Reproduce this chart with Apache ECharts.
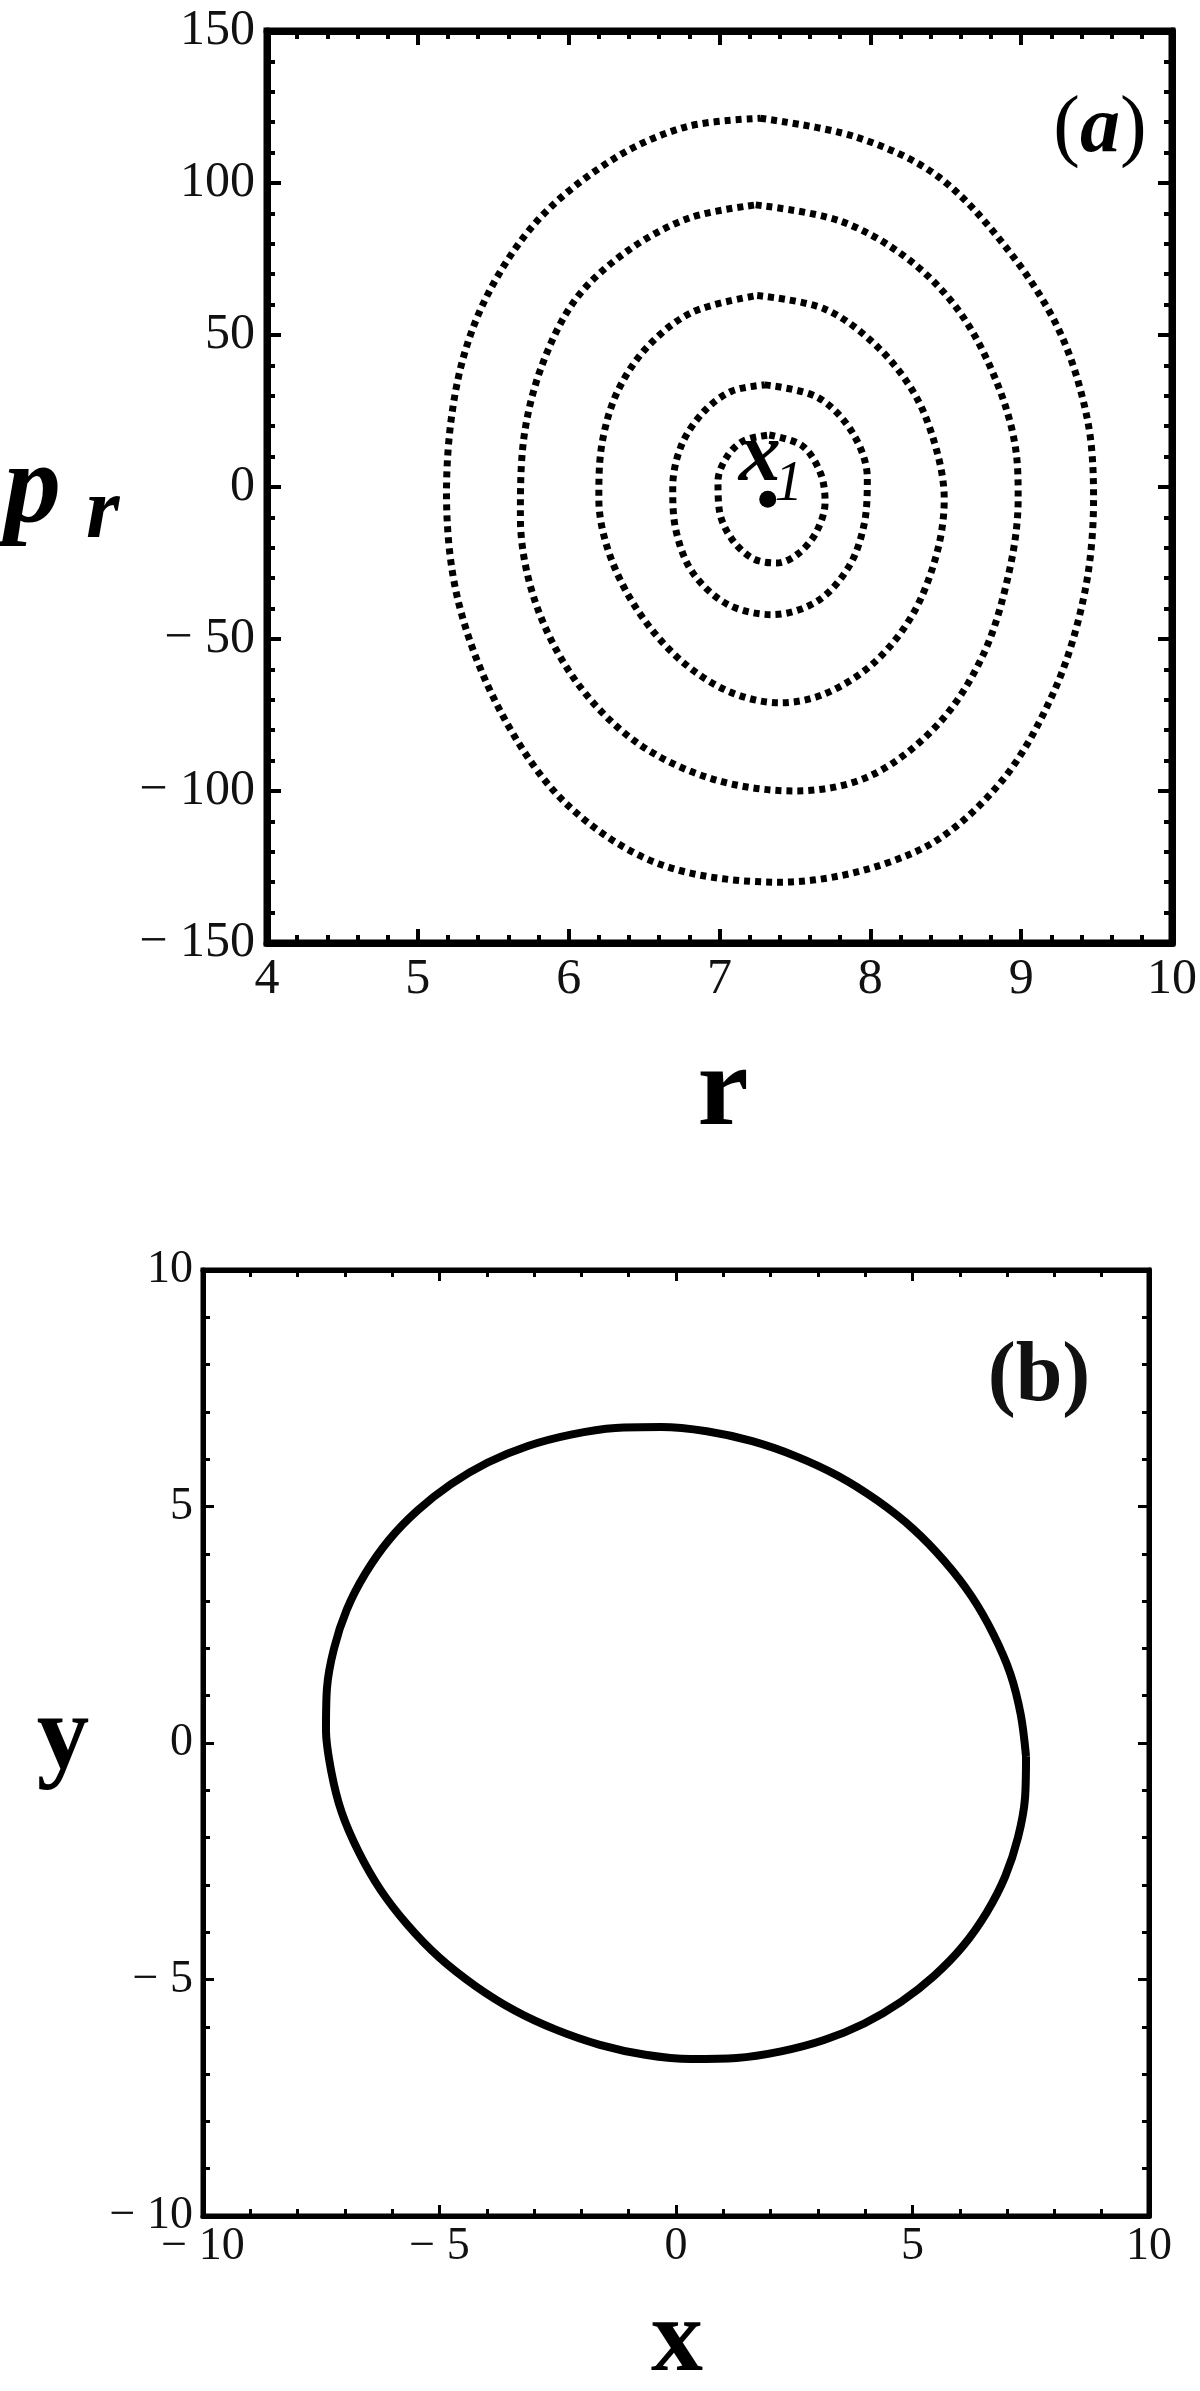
<!DOCTYPE html>
<html>
<head>
<meta charset="utf-8">
<script src="https://cdn.jsdelivr.net/npm/echarts@6/dist/echarts.min.js"></script>
<style>
  html, body { margin: 0; background: #fff; }
  #chart { width: 1200px; height: 2391px; }
</style>
</head>
<body>
<div id="chart"></div>
<script>
// panel (a): Poincare section, r against p_r
const rRange = [4, 10]
const prRange = [-150, 150]
const ring1 = [[7.27, 121.3], [7.90, 115.2], [8.45, 102.1], [8.93, 76.9], [9.26, 50.6], [9.44, 22], [9.48, -4], [9.42, -35], [9.22, -67], [8.85, -98], [8.30, -120], [7.40, -130], [6.60, -124], [5.98, -104], [5.55, -74], [5.27, -38], [5.19, -2], [5.26, 34], [5.45, 62], [5.80, 88], [6.30, 108], [6.78, 118.5], [7.27, 121.3]]
const ring2 = [[7.24, 92.8], [7.80, 87.5], [8.25, 75], [8.60, 57], [8.85, 33], [8.97, 10], [8.98, -4], [8.92, -28], [8.75, -55], [8.45, -78], [8.00, -95], [7.50, -100], [6.95, -96], [6.45, -84], [6.05, -64], [5.78, -38], [5.68, -10], [5.70, 15], [5.82, 39.6], [6.05, 62], [6.40, 78], [6.80, 88.5], [7.24, 92.8]]
const ring3 = [[7.25, 63], [7.70, 58.5], [8.05, 46], [8.30, 30], [8.44, 12], [8.49, -4], [8.44, -22], [8.28, -42], [8.02, -58], [7.70, -68], [7.40, -71], [7.05, -67], [6.72, -56], [6.45, -40], [6.27, -22], [6.20, -4], [6.22, 14], [6.32, 31], [6.52, 46], [6.82, 57.5], [7.25, 63]]
const ring4 = [[7.30, 33.6], [7.65, 29.5], [7.88, 18], [7.98, 3], [7.96, -12], [7.86, -26], [7.65, -37.5], [7.35, -42], [7.05, -38.5], [6.82, -28], [6.71, -14], [6.69, 0], [6.75, 14], [6.90, 25], [7.08, 31.5], [7.30, 33.6]]
const ring5 = [[7.33, 17.1], [7.55, 13.5], [7.67, 4.5], [7.70, -5], [7.64, -15], [7.52, -22], [7.38, -25], [7.22, -23.5], [7.08, -17], [7.00, -8], [6.99, 2], [7.05, 10], [7.16, 15.2], [7.33, 17.1]]
const fixedPoint = [[7.32, -4]]

// panel (b): orbit in the x-y plane
const xyRange = [-10, 10]
const orbit = [
  [7.40, -0.28], [7.29, 0.59], [7.07, 1.46], [6.71, 2.30], [6.25, 3.10], [5.68, 3.84], [5.01, 4.53], [4.25, 5.13],
  [3.42, 5.65], [2.54, 6.06], [1.61, 6.38], [0.65, 6.59], [-0.32, 6.68], [-1.28, 6.66], [-2.22, 6.52], [-3.13, 6.28],
  [-3.98, 5.93], [-4.76, 5.47], [-5.46, 4.92], [-6.07, 4.29], [-6.57, 3.58], [-6.96, 2.82], [-7.23, 2.00], [-7.38, 1.15],
  [-7.40, 0.28], [-7.29, -0.59], [-7.07, -1.46], [-6.71, -2.30], [-6.25, -3.10], [-5.68, -3.84], [-5.01, -4.53], [-4.25, -5.13],
  [-3.42, -5.65], [-2.54, -6.06], [-1.61, -6.38], [-0.65, -6.59], [0.32, -6.68], [1.28, -6.66], [2.22, -6.52], [3.13, -6.28],
  [3.98, -5.93], [4.76, -5.47], [5.46, -4.92], [6.07, -4.29], [6.57, -3.58], [6.96, -2.82], [7.23, -2.00], [7.38, -1.15],
  [7.40, -0.28]
]

const serif = 'Liberation Serif'
const minus = v => (v < 0 ? '\u2212 ' + Math.abs(v) : String(v))

function axis (gridIndex, position, range, interval, label, st) {
  return {
    type: 'value',
    gridIndex: gridIndex,
    position: position,
    min: range[0],
    max: range[1],
    interval: interval,
    axisLine: { show: true, onZero: false, lineStyle: { color: '#000', width: st.frame } },
    axisTick: { show: true, inside: true, length: st.major, lineStyle: { color: '#000', width: st.tickW } },
    minorTick: { show: true, splitNumber: 5, length: st.minor, lineStyle: { color: '#000', width: st.tickW } },
    splitLine: { show: false },
    axisLabel: {
      show: label,
      fontFamily: serif,
      fontSize: st.font,
      color: '#111',
      margin: st.margin,
      formatter: minus
    }
  }
}

const styleA = { frame: 7, major: 14, minor: 8, tickW: 4, font: 50, margin: 12 }
const styleB = { frame: 5, major: 11, minor: 7, tickW: 3, font: 46, margin: 10 }

const ringStyle = { color: '#000', width: 7, type: [6, 5], cap: 'butt' }
const ringSeries = [ring1, ring2, ring3, ring4, ring5].map(d => ({
  type: 'line',
  xAxisIndex: 0,
  yAxisIndex: 0,
  data: d,
  smooth: 0.33,
  symbol: 'none',
  lineStyle: ringStyle,
  silent: true
}))

const chart = echarts.init(document.getElementById('chart'))
const option = {
  backgroundColor: '#fff',
  animation: false,
  grid: [
    { left: 267, top: 31, width: 913, height: 912, show: true, borderColor: '#000', borderWidth: 7, backgroundColor: 'transparent' },
    { left: 203, top: 1270, width: 946, height: 946, show: true, borderColor: '#000', borderWidth: 5, backgroundColor: 'transparent' }
  ],
  xAxis: [
    axis(0, 'bottom', rRange, 1, true, styleA),
    axis(0, 'top', rRange, 1, false, styleA),
    axis(1, 'bottom', xyRange, 5, true, Object.assign({}, styleB, { margin: 8 })),
    axis(1, 'top', xyRange, 5, false, styleB)
  ],
  yAxis: [
    axis(0, 'left', prRange, 50, true, styleA),
    axis(0, 'right', prRange, 50, false, styleA),
    axis(1, 'left', xyRange, 5, true, styleB),
    axis(1, 'right', xyRange, 5, false, styleB)
  ],
  series: ringSeries.concat([
    {
      // subscript of the x1 label (drawn first, hidden under the dot)
      type: 'scatter',
      xAxisIndex: 0,
      yAxisIndex: 0,
      data: fixedPoint,
      symbolSize: 2,
      itemStyle: { color: '#000', opacity: 1 },
      label: {
        show: true,
        position: 'inside',
        offset: [21, -14],
        formatter: '1',
        fontFamily: serif,
        fontStyle: 'italic',
        fontSize: 56,
        color: '#000'
      }
    },
    {
      // fixed point x1 with the letter x
      type: 'scatter',
      xAxisIndex: 0,
      yAxisIndex: 0,
      data: fixedPoint,
      symbolSize: 17,
      itemStyle: { color: '#000', opacity: 1 },
      label: {
        show: true,
        position: 'inside',
        offset: [-8, -41],
        formatter: 'x',
        fontFamily: serif,
        fontStyle: 'italic',
        fontWeight: 'bold',
        fontSize: 84,
        color: '#000'
      }
    },
    {
      type: 'line',
      xAxisIndex: 2,
      yAxisIndex: 2,
      data: orbit,
      smooth: 0.33,
      symbol: 'none',
      lineStyle: { color: '#000', width: 8 }
    }
  ]),
  graphic: [
    { type: 'text', left: 4, top: 436, style: { text: 'p', font: 'italic bold 114px "Liberation Serif"', fill: '#000' } },
    { type: 'text', left: 86, top: 472, style: { text: 'r', font: 'italic bold 86px "Liberation Serif"', fill: '#000' } },
    { type: 'text', x: 723, y: 1094, style: { text: 'r', font: 'bold 115px "Liberation Serif"', fill: '#000', align: 'center', verticalAlign: 'middle' } },
    { type: 'text', x: 1100, y: 130, style: { text: '{n|(}{a|a}{n|)}', align: 'center', verticalAlign: 'middle', rich: { n: { fontFamily: serif, fontSize: 80, color: '#111' }, a: { fontFamily: serif, fontSize: 80, fontStyle: 'italic', fontWeight: 'bold', color: '#111' } } } },
    { type: 'text', x: 63, y: 1740, style: { text: 'y', font: 'bold 105px "Liberation Serif"', fill: '#000', align: 'center', verticalAlign: 'middle' } },
    { type: 'text', x: 677, y: 2343, style: { text: 'x', font: 'bold 104px "Liberation Serif"', fill: '#000', align: 'center', verticalAlign: 'middle' } },
    { type: 'text', x: 1039, y: 1378, style: { text: '(b)', font: 'bold 84px "Liberation Serif"', fill: '#111', align: 'center', verticalAlign: 'middle' } }
  ]
}
chart.setOption(option)
</script>
</body>
</html>
